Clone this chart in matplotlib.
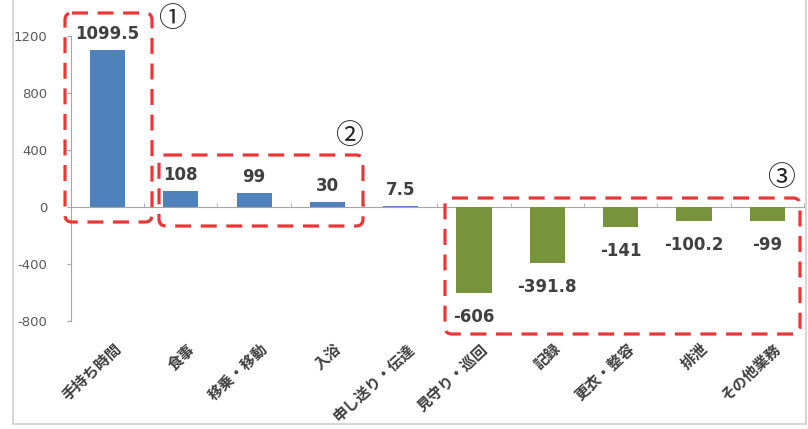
import matplotlib
matplotlib.use("Agg")
import matplotlib.pyplot as plt
from matplotlib.patches import FancyBboxPatch
from matplotlib.lines import Line2D
import numpy as np

plt.rcParams['font.family'] = ['Noto Sans CJK JP', 'DejaVu Sans']

categories = ['手持ち時間', '食事', '移乗・移動', '入浴', '申し送り・伝達',
              '見守り・巡回', '記録', '更衣・整容', '排泄', 'その他業務']
values = [1099.5, 108, 99, 30, 7.5, -606, -391.8, -141, -100.2, -99]
value_labels = ['1099.5', '108', '99', '30', '7.5', '-606', '-391.8', '-141', '-100.2', '-99']
yticks = [1200, 800, 400, 0, -400, -800]
circle_marks = ['①', '②', '③']

BLUE = '#4F81BD'
OLIVE = '#77933C'
TXT = '#404040'
AXC = '#A6A6A6'

W, H = 808, 429
fig = plt.figure(figsize=(W / 100, H / 100), dpi=100)
fig.patch.set_facecolor('white')

ax = fig.add_axes([70.85 / W, 108.3 / H, (803.9 - 70.85) / W, (393.3 - 108.3) / H])
x = np.arange(len(categories))
colors = [BLUE if v >= 0 else OLIVE for v in values]
ax.bar(x, values, width=0.48, color=colors, edgecolor='none', zorder=3)

ax.set_xlim(-0.5, len(categories) - 0.5)
ax.set_ylim(-800, 1200)
ax.set_yticks(yticks)
ax.set_yticklabels([str(t) for t in yticks], fontsize=9.5, color='#595959',
                   family=['DejaVu Sans'])
ax.tick_params(axis='y', length=3, color=AXC, pad=14)

for s in ['top', 'right']:
    ax.spines[s].set_visible(False)
ax.spines['left'].set_color(AXC)
ax.spines['bottom'].set_position(('data', 0))
ax.spines['bottom'].set_color(AXC)
ax.set_xticks(x)
ax.set_xticklabels([])
ax.tick_params(axis='x', length=0)
ax.set_xticks(np.arange(-0.5, len(categories), 1.0), minor=True)
ax.tick_params(axis='x', which='minor', length=3, direction='in', color=AXC)
ax.patch.set_alpha(0)

# value labels
for xi, v, lab in zip(x, values, value_labels):
    if v >= 0:
        ax.annotate(lab, (xi, v), xytext=(0, 5), textcoords='offset points',
                    ha='center', va='bottom', fontsize=12, fontweight='bold',
                    color=TXT, family=['DejaVu Sans'])
    else:
        ax.annotate(lab, (xi, v), xytext=(0, -11), textcoords='offset points',
                    ha='center', va='top', fontsize=12, fontweight='bold',
                    color=TXT, family=['DejaVu Sans'])

# category labels
trans = ax.get_xaxis_transform()
for xi, c in zip(x, categories):
    ax.annotate(c, (xi, 0), xycoords=trans, xytext=(6, -20),
                textcoords='offset pixels', ha='right', va='top',
                rotation=43, rotation_mode='anchor', fontsize=10.8,
                fontweight='bold', color=TXT, annotation_clip=False)

# overlay in pixel units for annotation boxes
ov = fig.add_axes([0, 0, 1, 1], zorder=5)
ov.set_xlim(0, W)
ov.set_ylim(H, 0)
ov.axis('off')
ov.patch.set_alpha(0)

# light frame
frame_c = '#D0D0D0'
ov.add_line(Line2D([13, 13], [0, 424], color=frame_c, lw=1.2))
ov.add_line(Line2D([806, 806], [0, 424], color=frame_c, lw=1.2))
ov.add_line(Line2D([13, 806], [424, 424], color=frame_c, lw=1.2))

boxes = [(65, 13, 152, 222), (159, 155, 363, 226), (445, 198, 800, 334)]
for (x0, y0, x1, y1) in boxes:
    p = FancyBboxPatch((x0, y0), x1 - x0, y1 - y0,
                       boxstyle='round,pad=0,rounding_size=7',
                       fill=False, edgecolor='#EC3535', lw=2.3,
                       linestyle=(0, (5, 3)))
    ov.add_patch(p)

mark_pos = [(172, 19), (349, 136), (781, 178)]
for (mx, my), m in zip(mark_pos, circle_marks):
    ov.text(mx, my, m, ha='center', va='center', fontsize=20, color='#222222')

fig.savefig('out.png', dpi=100)
